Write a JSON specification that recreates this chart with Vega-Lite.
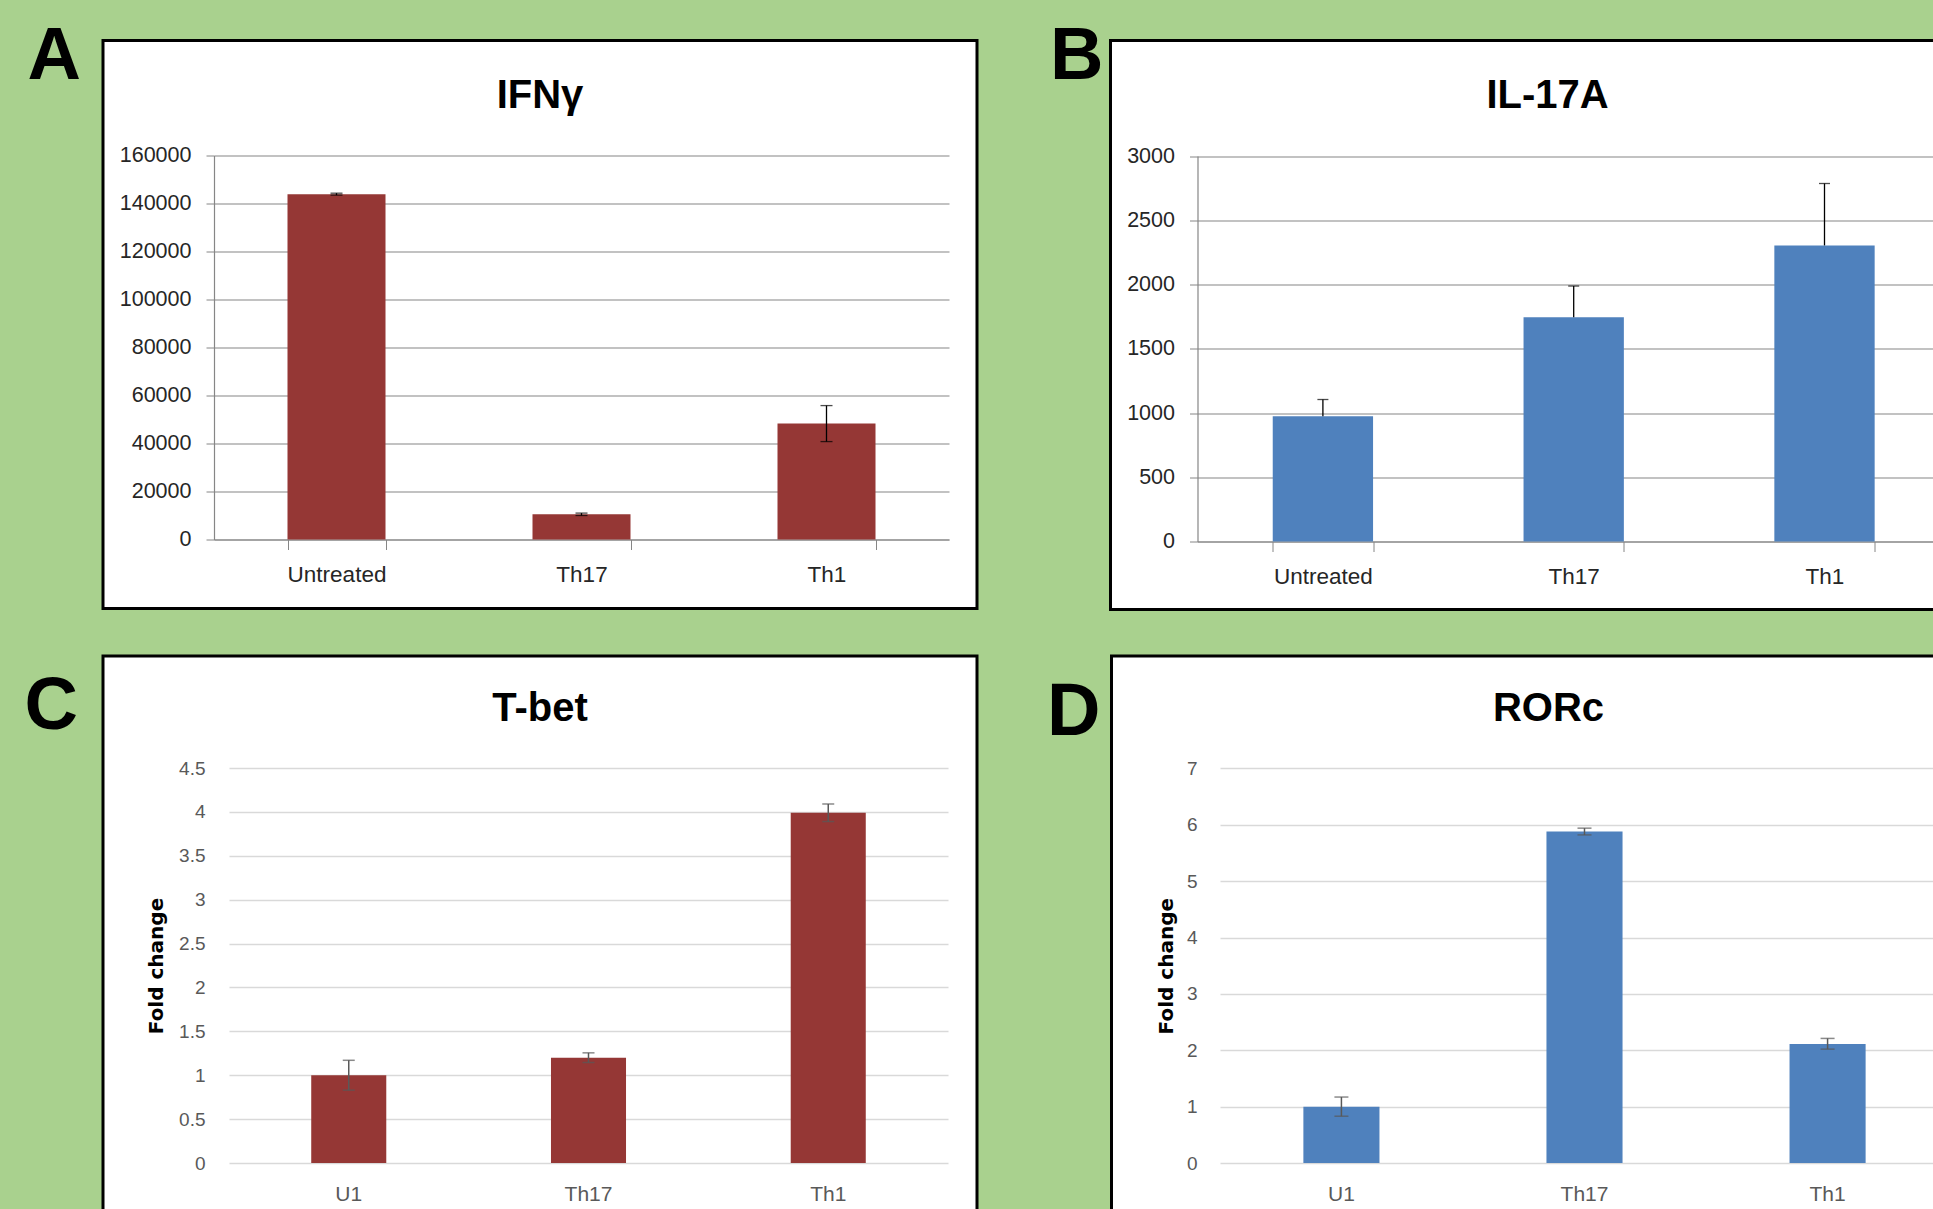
{
  "$schema": "https://vega.github.io/schema/vega-lite/v6.json",
  "background": "#A9D18E",
  "padding": {"left": 24, "top": 19.5, "right": 0, "bottom": 0},
  "spacing": 42.5,
  "config": {
    "view": {"fill": "white", "stroke": "black", "strokeWidth": 3},
    "axis": {"labelFont": "Liberation Sans", "titleFont": "DejaVu Sans", "labelAngle": 0},
    "title": {"font": "Liberation Sans", "fontWeight": "bold", "color": "black"}
  },
  "vconcat": [
    {
      "hconcat": [
        {
          "title": {"text": "A", "orient": "left", "anchor": "end", "angle": 0, "align": "right", "baseline": "top", "fontSize": 74, "offset": -33, "dy": -18},
          "vconcat": [
            {
              "width": 874, "height": 568,
              "title": {"text": "IFNγ", "fontSize": 40, "offset": -75, "baseline": "top", "anchor": "middle"},
              "data": {"values": [
                {"group": "Untreated", "value": 143900, "lo": 143500, "hi": 144300},
                {"group": "Th17", "value": 10500, "lo": 10000, "hi": 11000},
                {"group": "Th1", "value": 48300, "lo": 40800, "hi": 55800}
              ]},
              "encoding": {
                "x": {"field": "group", "type": "nominal", "sort": null,
                  "scale": {"range": [111, 846], "paddingInner": 0.6, "paddingOuter": 0.3},
                  "axis": {"title": null, "orient": "bottom", "offset": -69, "domainColor": "#868686", "domainWidth": 1.2, "tickColor": "#868686", "tickSize": 10, "tickBand": "extent", "labelFontSize": 22.5, "labelColor": "#262626", "labelPadding": 14}}
              },
              "layer": [
                {"mark": {"type": "bar", "color": "#953735"},
                 "encoding": {"y": {"field": "value", "type": "quantitative",
                   "scale": {"domain": [0, 160000], "range": [499, 115], "nice": false},
                   "axis": {"title": null, "offset": -111, "values": [0, 20000, 40000, 60000, 80000, 100000, 120000, 140000, 160000], "format": "d", "grid": true, "gridColor": "#868686", "gridWidth": 1.2, "domainColor": "#868686", "domainWidth": 1.2, "tickColor": "#868686", "tickSize": 8, "labelFontSize": 21.5, "labelColor": "#262626", "labelPadding": 15}}}},
                {"mark": {"type": "rule", "color": "black", "strokeWidth": 1.3},
                 "encoding": {"y": {"field": "lo", "type": "quantitative", "axis": {"title": null}}, "y2": {"field": "hi"}}},
                {"mark": {"type": "tick", "color": "black", "thickness": 1.3, "size": 12},
                 "encoding": {"y": {"field": "hi", "type": "quantitative", "axis": {"title": null}}}},
                {"mark": {"type": "tick", "color": "black", "thickness": 1.3, "size": 12},
                 "encoding": {"y": {"field": "lo", "type": "quantitative", "axis": {"title": null}}}}
              ]
            }
          ]
        },
        {
          "title": {"text": "B", "orient": "left", "anchor": "end", "angle": 0, "align": "right", "baseline": "top", "fontSize": 74, "offset": -48, "dy": -18},
          "vconcat": [
            {
              "width": 874, "height": 569,
              "title": {"text": "IL-17A", "fontSize": 40, "offset": -75, "baseline": "top", "anchor": "middle"},
              "data": {"values": [
                {"group": "Untreated", "value": 975, "hi": 1105},
                {"group": "Th17", "value": 1745, "hi": 1988},
                {"group": "Th1", "value": 2304, "hi": 2786}
              ]},
              "encoding": {
                "x": {"field": "group", "type": "nominal", "sort": null,
                  "scale": {"range": [87, 839.4], "paddingInner": 0.6, "paddingOuter": 0.3},
                  "axis": {"title": null, "orient": "bottom", "offset": -68, "domainColor": "#868686", "domainWidth": 1.2, "tickColor": "#868686", "tickSize": 10, "tickBand": "extent", "labelFontSize": 22.5, "labelColor": "#262626", "labelPadding": 14}}
              },
              "layer": [
                {"mark": {"type": "bar", "color": "#4F81BD"},
                 "encoding": {"y": {"field": "value", "type": "quantitative",
                   "scale": {"domain": [0, 3000], "range": [501, 115.5], "nice": false},
                   "axis": {"title": null, "offset": -87, "values": [0, 500, 1000, 1500, 2000, 2500, 3000], "format": "d", "grid": true, "gridColor": "#868686", "gridWidth": 1.2, "domainColor": "#868686", "domainWidth": 1.2, "tickColor": "#868686", "tickSize": 8, "labelFontSize": 21.5, "labelColor": "#262626", "labelPadding": 15}}}},
                {"mark": {"type": "rule", "color": "black", "strokeWidth": 1.3},
                 "encoding": {"y": {"field": "value", "type": "quantitative", "axis": {"title": null}}, "y2": {"field": "hi"}}},
                {"mark": {"type": "tick", "color": "black", "thickness": 1.3, "size": 11},
                 "encoding": {"y": {"field": "hi", "type": "quantitative", "axis": {"title": null}}}}
              ]
            }
          ]
        }
      ],
      "spacing": 70.5
    },
    {
      "hconcat": [
        {
          "title": {"text": "C", "orient": "left", "anchor": "end", "angle": 0, "align": "right", "baseline": "top", "fontSize": 74, "offset": -30, "dy": 16},
          "vconcat": [
            {
              "width": 874, "height": 568,
              "title": {"text": "T-bet", "fontSize": 40, "offset": -73, "baseline": "top", "anchor": "middle"},
              "data": {"values": [
                {"group": "U1", "value": 1.0, "lo": 0.83, "hi": 1.17},
                {"group": "Th17", "value": 1.2, "lo": 1.145, "hi": 1.255},
                {"group": "Th1", "value": 3.99, "lo": 3.89, "hi": 4.09}
              ]},
              "encoding": {
                "x": {"field": "group", "type": "nominal", "sort": null,
                  "scale": {"range": [126, 845], "paddingInner": 0.687, "paddingOuter": 0.343},
                  "axis": {"title": null, "orient": "bottom", "offset": -61, "domain": false, "ticks": false, "labelFontSize": 21, "labelColor": "#595959", "labelPadding": 20}}
              },
              "layer": [
                {"mark": {"type": "bar", "color": "#953735"},
                 "encoding": {"y": {"field": "value", "type": "quantitative",
                   "scale": {"domain": [0, 4.5], "range": [507, 112], "nice": false},
                   "axis": {"title": "Fold change", "titleFontSize": 20, "titleFontWeight": "bold", "titleColor": "black", "titlePadding": 12, "offset": -126, "values": [0, 0.5, 1, 1.5, 2, 2.5, 3, 3.5, 4, 4.5], "format": "~g", "grid": true, "gridColor": "#D9D9D9", "gridWidth": 1.5, "domain": false, "ticks": false, "labelFontSize": 19, "labelColor": "#595959", "labelPadding": 24}}}},
                {"mark": {"type": "rule", "color": "#595959", "strokeWidth": 1.5},
                 "encoding": {"y": {"field": "lo", "type": "quantitative", "axis": {"title": "Fold change"}}, "y2": {"field": "hi"}}},
                {"mark": {"type": "tick", "color": "#595959", "thickness": 1.5, "size": 12},
                 "encoding": {"y": {"field": "hi", "type": "quantitative", "axis": {"title": "Fold change"}}}},
                {"mark": {"type": "tick", "color": "#595959", "thickness": 1.5, "size": 12},
                 "encoding": {"y": {"field": "lo", "type": "quantitative", "axis": {"title": "Fold change"}}}}
              ]
            }
          ]
        },
        {
          "title": {"text": "D", "orient": "left", "anchor": "end", "angle": 0, "align": "right", "baseline": "top", "fontSize": 74, "offset": -44, "dy": 22},
          "vconcat": [
            {
              "width": 874, "height": 568,
              "title": {"text": "RORc", "fontSize": 40, "offset": -73, "baseline": "top", "anchor": "middle"},
              "data": {"values": [
                {"group": "U1", "value": 1.0, "lo": 0.83, "hi": 1.17},
                {"group": "Th17", "value": 5.88, "lo": 5.82, "hi": 5.94},
                {"group": "Th1", "value": 2.11, "lo": 2.02, "hi": 2.21}
              ]},
              "encoding": {
                "x": {"field": "group", "type": "nominal", "sort": null,
                  "scale": {"range": [108.5, 837.5], "paddingInner": 0.687, "paddingOuter": 0.343},
                  "axis": {"title": null, "orient": "bottom", "offset": -61, "domain": false, "ticks": false, "labelFontSize": 21, "labelColor": "#595959", "labelPadding": 20}}
              },
              "layer": [
                {"mark": {"type": "bar", "color": "#4F81BD"},
                 "encoding": {"y": {"field": "value", "type": "quantitative",
                   "scale": {"domain": [0, 7], "range": [507, 112.4], "nice": false},
                   "axis": {"title": "Fold change", "titleFontSize": 20, "titleFontWeight": "bold", "titleColor": "black", "titlePadding": 10, "offset": -108.5, "values": [0, 1, 2, 3, 4, 5, 6, 7], "format": "~g", "grid": true, "gridColor": "#D9D9D9", "gridWidth": 1.5, "domain": false, "ticks": false, "labelFontSize": 19, "labelColor": "#595959", "labelPadding": 23}}}},
                {"mark": {"type": "rule", "color": "#595959", "strokeWidth": 1.5},
                 "encoding": {"y": {"field": "lo", "type": "quantitative", "axis": {"title": "Fold change"}}, "y2": {"field": "hi"}}},
                {"mark": {"type": "tick", "color": "#595959", "thickness": 1.5, "size": 14},
                 "encoding": {"y": {"field": "hi", "type": "quantitative", "axis": {"title": "Fold change"}}}},
                {"mark": {"type": "tick", "color": "#595959", "thickness": 1.5, "size": 14},
                 "encoding": {"y": {"field": "lo", "type": "quantitative", "axis": {"title": "Fold change"}}}}
              ]
            }
          ]
        }
      ],
      "spacing": 67.5
    }
  ]
}
